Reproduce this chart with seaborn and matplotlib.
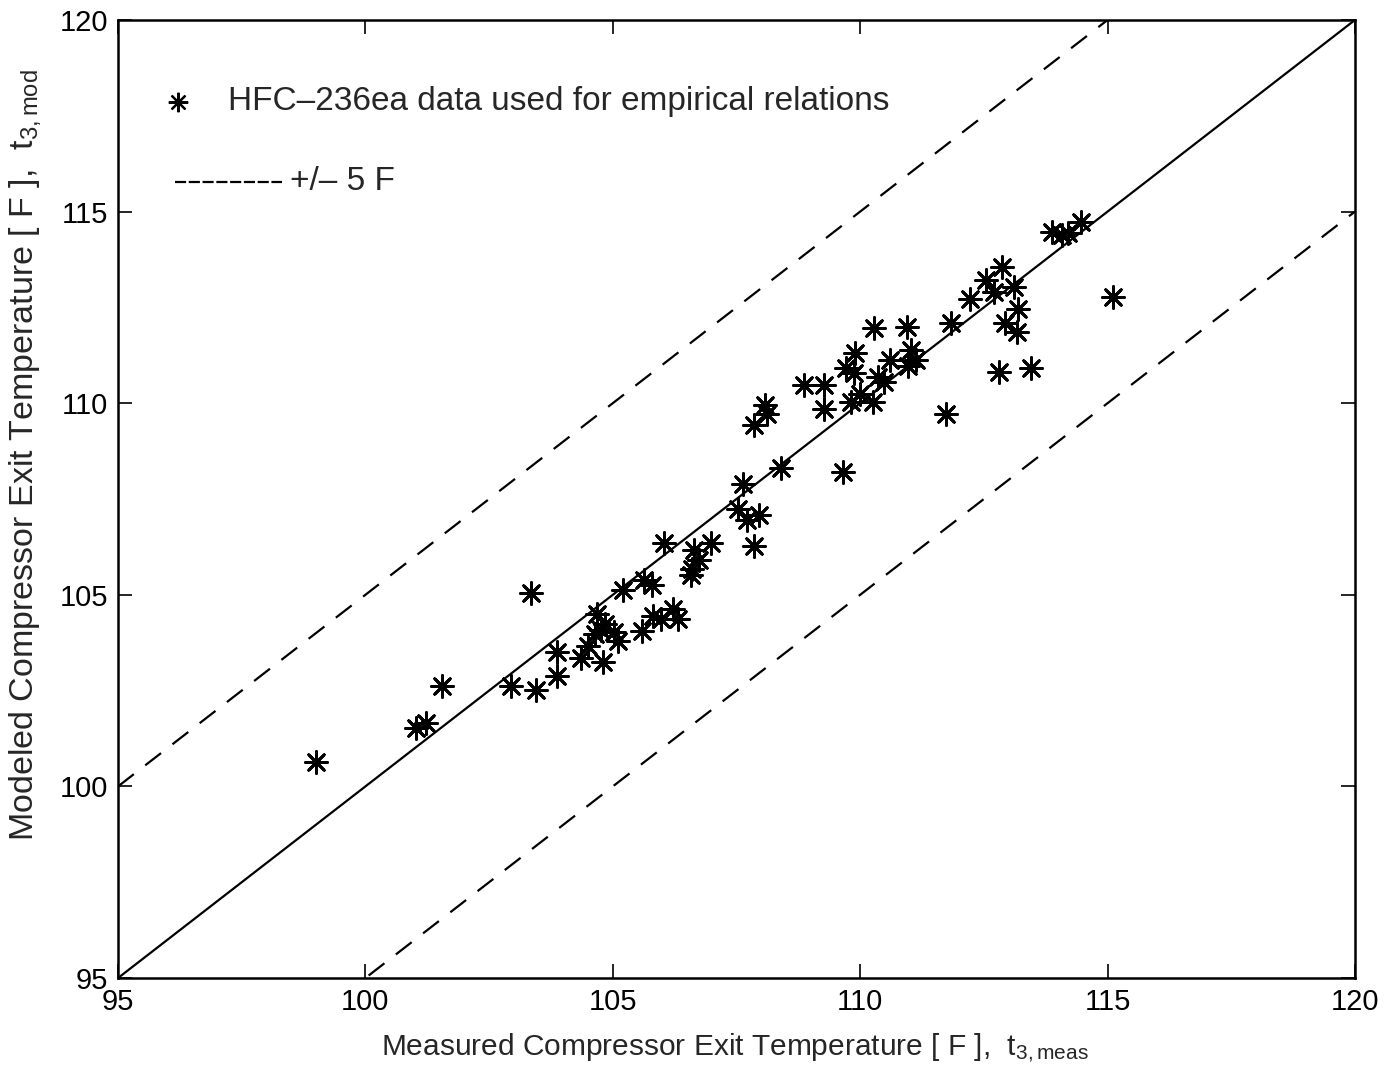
import numpy as np
import pandas as pd
import matplotlib
matplotlib.use("Agg")
import matplotlib.pyplot as plt
import seaborn as sns

measured = [99.01, 101.03, 101.23, 101.54, 102.94, 103.35, 103.44, 103.88, 103.88, 104.35,
            104.49, 104.81, 104.64, 104.76, 104.84, 105.03, 105.11, 104.69, 105.20, 105.63,
            105.80, 105.60, 105.82, 105.97, 106.21, 106.31, 106.03, 106.65, 106.98, 106.75,
            106.61, 106.58, 107.54, 107.63, 107.71, 107.96, 107.86, 107.86, 108.08, 108.12,
            108.40, 108.87, 109.26, 109.26, 109.65, 109.82, 109.99, 110.26, 110.49, 109.72,
            109.87, 109.90, 110.27, 110.37, 110.61, 110.95, 111.03, 111.13, 110.97, 111.84,
            111.74, 112.21, 112.55, 112.71, 112.87, 113.11, 113.19, 112.92, 113.16, 112.80,
            113.46, 115.12, 113.87, 114.07, 114.20, 114.46]
modeled = [100.63, 101.52, 101.65, 102.62, 102.61, 105.06, 102.51, 103.51, 102.87, 103.35,
           103.66, 103.25, 103.99, 104.07, 104.23, 104.03, 103.79, 104.51, 105.12, 105.38,
           105.25, 104.05, 104.46, 104.38, 104.64, 104.38, 106.35, 106.16, 106.34, 105.90,
           105.68, 105.51, 107.25, 107.89, 106.95, 107.08, 106.27, 109.44, 109.95, 109.73,
           108.32, 110.47, 110.47, 109.84, 108.21, 110.03, 110.25, 110.03, 110.56, 110.91,
           110.78, 111.31, 111.95, 110.69, 111.12, 111.98, 111.38, 111.12, 110.97, 112.10,
           109.71, 112.73, 113.21, 112.91, 113.56, 113.04, 112.47, 112.08, 111.86, 110.82,
           110.92, 112.78, 114.47, 114.39, 114.43, 114.73]

axis_limits = [95, 120]
tick_values = [95, 100, 105, 110, 115, 120]
band = 5
legend_labels = ["HFC\u2013236ea data used for empirical relations", "+/\u2013 5 F"]

df = pd.DataFrame({"measured": measured, "modeled": modeled})

sns.set_style("ticks")
plt.rcParams['font.family'] = ['Liberation Sans', 'DejaVu Sans']
plt.rcParams['mathtext.fontset'] = 'custom'
plt.rcParams['mathtext.rm'] = 'Liberation Sans'
plt.rcParams['mathtext.it'] = 'Liberation Sans'

fig = plt.figure(figsize=(13.98, 10.8), dpi=100)
ax = fig.add_axes([0.0844, 0.0944, 0.8848, 0.8871])

lims = np.array(axis_limits, dtype=float)
ax.plot(lims, lims, color='black', lw=1.6)
ax.plot(lims, lims + band, color='black', lw=1.6, ls=(0, (9, 6.5)))
ax.plot(lims, lims - band, color='black', lw=1.6, ls=(0, (9, 6.5)))

sns.scatterplot(data=df, x="measured", y="modeled", ax=ax, marker=(8, 2, 0),
                s=250, color='black', linewidth=2.0, legend=False, zorder=3)

ax.set_xlim(axis_limits)
ax.set_ylim(axis_limits)
ax.set_xticks(tick_values)
ax.set_yticks(tick_values)
ax.tick_params(direction='in', length=10, width=1.2, top=True, right=True,
               labelsize=21, pad=7, colors='black')
for s in ax.spines.values():
    s.set_visible(True)
    s.set_linewidth(1.8)
    s.set_color('black')

ax.set_xlabel(r"Measured Compressor Exit Temperature [ F ],  t$_{3,\mathrm{meas}}$", fontsize=21.5)
ax.set_ylabel(r"Modeled Compressor Exit Temperature [ F ],  t$_{3,\mathrm{mod}}$", fontsize=24.5)
ax.xaxis.set_label_coords(0.499, -0.055)
ax.yaxis.set_label_coords(-0.075, 0.546)
ax.yaxis.label.set_va('center')

# legend block as in the original (placed in axes fractions)
ax.plot([0.0485], [0.9144], transform=ax.transAxes, color='black', marker=(8, 2, 0),
        ls='none', markersize=14, mew=1.6, clip_on=False)
ax.text(0.0889, 0.9144, legend_labels[0], transform=ax.transAxes, fontsize=24,
        va='center', ha='left')
ax.plot([0.0461, 0.1326], [0.8309, 0.8309], transform=ax.transAxes, color='black',
        lw=1.6, ls=(0, (5, 1.2)))
ax.text(0.139, 0.8309, legend_labels[1], transform=ax.transAxes, fontsize=24,
        va='center', ha='left')

fig.savefig("out.png", dpi=100)
